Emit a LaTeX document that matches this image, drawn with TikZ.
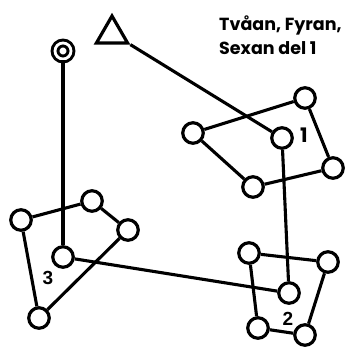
\documentclass[tikz,border=0pt]{standalone}
\usepackage{fontspec}
\newfontfamily\titleFont{Poppins}
\newfontfamily\labelFont{Liberation Sans}
\usepackage{tikz}
\usetikzlibrary{shapes,positioning,calc}
\tikzset{
  vertexNode/.style={
    circle,
    draw=black,
    fill=white,
    line width=3.2pt,
    minimum size=20.5pt,
    inner sep=0pt
  },
  goalNode/.style={
    circle,
    draw=black,
    line width=3pt,
    double=white,
    double distance=2.8pt,
    minimum size=16pt,
    inner sep=0pt
  },
  startNode/.style={
    regular polygon,
    regular polygon sides=3,
    draw=black,
    line width=3.2pt,
    minimum size=36pt,
    inner sep=0pt
  },
  edgeLine/.style={
    line width=3.1pt
  },
  titleText/.style={
    font=\titleFont\bfseries\fontsize{17.5}{24}\selectfont,
    align=left,
    inner sep=0pt
  },
  groupLabel/.style={
    font=\labelFont\bfseries\fontsize{19}{20}\selectfont,
    inner sep=0pt
  }
}

\begin{document}
\begin{tikzpicture}[x=1pt,y=-1pt]
        \useasboundingbox (0,0) rectangle (345,347);

        \node[startNode] (start) at (112,34) {};
        \node[goalNode] (goal) at (63,51) {};
        \node[titleText, anchor=north west] (title) at (219,16) {Tvåan, Fyran,\\Sexan del 1};

        % group 1
        \node[vertexNode] (aTop) at (305,98) {};
        \node[vertexNode] (aLeft) at (193,133) {};
        \node[vertexNode] (aMid) at (282,138) {};
        \node[vertexNode] (aRight) at (333,168) {};
        \node[vertexNode] (aBottom) at (253,187) {};
        \node[groupLabel, font=\titleFont\bfseries\fontsize{20}{20}\selectfont] (aLabel) at (304,135) {1};

        % group 2
        \node[vertexNode] (bTopL) at (249,253) {};
        \node[vertexNode] (bTopR) at (328,262) {};
        \node[vertexNode] (bMid) at (289,293) {};
        \node[vertexNode] (bBotL) at (258,328) {};
        \node[vertexNode] (bBotR) at (305,335) {};
        \node[groupLabel] (bLabel) at (288,319) {2};

        % group 3
        \node[vertexNode] (cLeft) at (21,220) {};
        \node[vertexNode] (cTop) at (92,201) {};
        \node[vertexNode] (cRight) at (128,230) {};
        \node[vertexNode] (cIn) at (63,257) {};
        \node[vertexNode] (cBot) at (39,318) {};
        \node[groupLabel] (cLabel) at (48,278) {3};

        \draw[edgeLine] (aLeft) -- (aTop) -- (aRight) -- (aBottom) -- (aLeft);
        \draw[edgeLine] (bTopL) -- (bTopR) -- (bBotR) -- (bBotL) -- (bTopL);
        \draw[edgeLine] (cLeft) -- (cTop) -- (cRight) -- (cBot) -- (cLeft);

        \draw[edgeLine] (start.corner 3) -- (aMid);
        \draw[edgeLine] (aMid) -- (bMid);
        \draw[edgeLine] (bMid) -- (cIn);
        \draw[edgeLine] (cIn) -- (goal);
    \end{tikzpicture}
\end{document}
